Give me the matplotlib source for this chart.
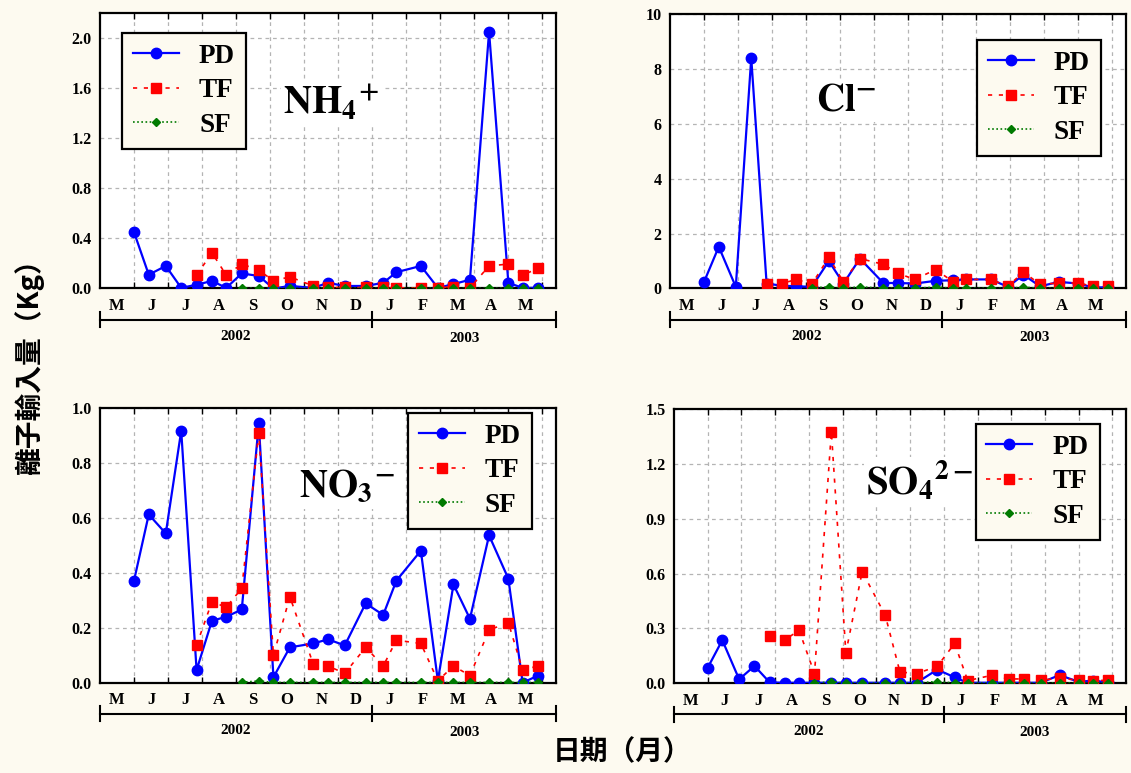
import calendar
import matplotlib
matplotlib.use("Agg")
import matplotlib.pyplot as plt
import matplotlib.transforms as mtransforms

# sampling dates (PD uses all, TF starts at the 5th, SF at the 8th)
dates = ['2002-06-01', '2002-06-14', '2002-06-29', '2002-07-13', '2002-07-27',
         '2002-08-10', '2002-08-23', '2002-09-06', '2002-09-21', '2002-10-04',
         '2002-10-19', '2002-11-09', '2002-11-22', '2002-12-07', '2002-12-26',
         '2003-01-11', '2003-01-23', '2003-02-13', '2003-02-27', '2003-03-13',
         '2003-03-28', '2003-04-14', '2003-05-01', '2003-05-14', '2003-05-28']
tf_start = 4
sf_start = 7

month_labels = ['M', 'J', 'J', 'A', 'S', 'O', 'N', 'D', 'J', 'F', 'M', 'A', 'M']
years = ['2002', '2003']

# NH4+
nh4_pd = [0.45, 0.11, 0.18, 0.005, 0.03, 0.06, 0.005, 0.12, 0.10, 0.0, 0.02, 0.005, 0.045,
          0.02, 0.02, 0.045, 0.13, 0.18, 0.005, 0.035, 0.07, 2.05, 0.045, 0.005, 0.005]
nh4_tf = [0.107, 0.285, 0.107, 0.195, 0.147, 0.061, 0.093, 0.02, 0.008, 0.008, 0.008,
          0.008, 0.005, 0.005, 0.005, 0.015, 0.005, 0.18, 0.195, 0.107, 0.16]
nh4_sf = [0.003, 0.003, 0.002, 0.002, 0.002, 0.002, 0.002, 0.002, 0.002, 0.002, 0.002,
          0.002, 0.002, 0.002, 0.002, 0.002, 0.002, 0.002]

# Cl-
cl_pd = [0.24, 1.52, 0.06, 8.4, 0.18, 0.1, 0.08, 0.06, 1.0, 0.18, 1.09, 0.2, 0.2,
         0.18, 0.28, 0.3, 0.33, 0.33, 0.06, 0.5, 0.08, 0.24, 0.18, 0.04, 0.04]
cl_tf = [0.15, 0.18, 0.33, 0.16, 1.13, 0.24, 1.09, 0.88, 0.55, 0.33, 0.69, 0.24, 0.33,
         0.33, 0.08, 0.6, 0.15, 0.2, 0.2, 0.08, 0.08]
cl_sf = [0.02, 0.06, 0.01, 0.06, 0.01, 0.01, 0.01, 0.05, 0.01, 0.01, 0.01, 0.01, 0.05,
         0.01, 0.01, 0.01, 0.01, 0.01]

# NO3-
no3_pd = [0.372, 0.613, 0.544, 0.918, 0.046, 0.226, 0.24, 0.267, 0.945, 0.02, 0.129,
          0.143, 0.158, 0.136, 0.289, 0.247, 0.372, 0.481, 0.007, 0.358, 0.233, 0.537,
          0.379, 0.0, 0.026]
no3_tf = [0.137, 0.295, 0.275, 0.344, 0.909, 0.10, 0.313, 0.068, 0.061, 0.034, 0.129,
          0.061, 0.155, 0.143, 0.007, 0.061, 0.026, 0.192, 0.219, 0.046, 0.061]
no3_sf = [0.002, 0.006, 0.001, 0.001, 0.001, 0.001, 0.001, 0.001, 0.001, 0.001, 0.001,
          0.001, 0.001, 0.001, 0.001, 0.001, 0.001, 0.001]

# SO4 2-
so4_pd = [0.085, 0.236, 0.022, 0.095, 0.005, 0.003, 0.003, 0.003, 0.003, 0.003, 0.003,
          0.003, 0.003, 0.003, 0.075, 0.033, 0.003, 0.003, 0.003, 0.003, 0.003, 0.045,
          0.008, 0.015, 0.005]
so4_tf = [0.26, 0.238, 0.29, 0.053, 1.376, 0.167, 0.611, 0.371, 0.062, 0.053, 0.093,
          0.218, 0.015, 0.044, 0.024, 0.024, 0.018, 0.027, 0.018, 0.013, 0.018]
so4_sf = [0.002, 0.008, 0.002, 0.002, 0.002, 0.002, 0.002, 0.01, 0.002, 0.002, 0.002,
          0.002, 0.002, 0.002, 0.002, 0.002, 0.002, 0.002]


def month_pos(s):
    # months elapsed since 1 May 2002, each month the same width
    y, m, d = map(int, s.split('-'))
    return (y - 2002) * 12 + (m - 5) + (d - 1) / calendar.monthrange(y, m)[1]


x_all = [month_pos(d) for d in dates]

plt.rcParams['font.family'] = ['Liberation Serif', 'DejaVu Serif']
plt.rcParams['font.weight'] = 'bold'
plt.rcParams['mathtext.fontset'] = 'stix'

bg = '#fdfaf0'
cjk = ['Noto Sans CJK TC', 'DejaVu Sans']

fig = plt.figure(figsize=(11.31, 7.73), dpi=100, facecolor=bg)

panels = [
    # rect, pd, tf, sf, ymax, ystep, fmt, ion label, label pos, legend loc, legend anchor
    ([0.0884, 0.6268, 0.4032, 0.3564], nh4_pd, nh4_tf, nh4_sf, 2.2, 0.4, '{:.1f}',
     r'$\mathbf{NH_4}^{\mathbf{+}}$', (0.507, 0.673), 'upper left', (0.048, 0.927)),
    ([0.5924, 0.6268, 0.4032, 0.3551], cl_pd, cl_tf, cl_sf, 10, 2, '{:.0f}',
     r'$\mathbf{Cl}^{\mathbf{-}}$', (0.386, 0.683), 'upper right', (0.945, 0.905)),
    ([0.0884, 0.1168, 0.4032, 0.3550], no3_pd, no3_tf, no3_sf, 1.0, 0.2, '{:.1f}',
     r'$\mathbf{NO_3}^{\mathbf{-}}$', (0.542, 0.71), 'upper right', (0.947, 0.983)),
    ([0.5959, 0.1160, 0.3996, 0.3549], so4_pd, so4_tf, so4_sf, 1.5, 0.3, '{:.1f}',
     r'$\mathbf{SO_4}^{\mathbf{2-}}$', (0.544, 0.737), 'upper right', (0.942, 0.945)),
]

xmax = 13.4

for rect, pdv, tfv, sfv, ymax, ystep, fmt, ion, ion_pos, lloc, lanchor in panels:
    ax = fig.add_axes(rect)
    ax.set_facecolor('white')

    ax.plot(x_all, pdv, color='#0000ff', lw=1.6, marker='o', ms=7.5, label='PD', zorder=3)
    ax.plot(x_all[tf_start:], tfv, color='#ff0000', lw=1.2, ls=(0, (2.5, 4)), marker='s',
            ms=7, label='TF', zorder=4)
    ax.plot(x_all[sf_start:], sfv, color='#007a00', lw=1.2, ls=(0, (1, 1.5)), marker='D',
            ms=4.5, label='SF', zorder=5)

    ax.set_xlim(0, xmax)
    ax.set_ylim(0, ymax)

    yt = [i * ystep for i in range(int(round(ymax / ystep)) + 1)]
    yt = [v for v in yt if v <= ymax + 1e-9]
    ax.set_yticks(yt)
    ax.set_yticklabels([fmt.format(v) for v in yt])
    ax.tick_params(axis='y', length=0, pad=6, labelsize=11.5)

    ax.set_xticks(range(1, 14))
    ax.set_xticklabels([])
    ax.set_xticks([i + 0.5 for i in range(13)], minor=True)
    ax.set_xticklabels(month_labels, minor=True)
    ax.tick_params(axis='x', which='major', direction='in', length=4, top=True, width=1)
    ax.tick_params(axis='x', which='minor', length=0, pad=7, labelsize=12)

    ax.grid(True, which='major', color='#b4b4b4', ls=(0, (3, 3)), lw=0.9)
    ax.set_axisbelow(True)
    for sp in ax.spines.values():
        sp.set_linewidth(1.6)
        sp.set_color('black')

    # year bracket below month labels
    tr = mtransforms.blended_transform_factory(ax.transData, ax.transAxes)
    ax.plot([0, xmax], [-0.113, -0.113], color='black', lw=1.5, transform=tr, clip_on=False)
    for xb in [0, 8, xmax]:
        ax.plot([xb, xb], [-0.085, -0.141], color='black', lw=1.5, transform=tr, clip_on=False)
    ax.text(4, -0.175, years[0], transform=tr, ha='center', va='center', fontsize=11,
            fontweight='bold')
    ax.text((8 + xmax) / 2, -0.18, years[1], transform=tr, ha='center', va='center',
            fontsize=11, fontweight='bold')

    ax.text(ion_pos[0], ion_pos[1], ion, transform=ax.transAxes, ha='center', va='center',
            fontsize=28, bbox=dict(facecolor='white', edgecolor='none', pad=2), zorder=6)

    leg = ax.legend(loc=lloc, bbox_to_anchor=lanchor, borderaxespad=0, fancybox=False,
                    framealpha=1, facecolor=bg, edgecolor='black',
                    handlelength=1.7, handletextpad=0.75, labelspacing=0.35,
                    borderpad=0.4, prop={'weight': 'bold', 'size': 19.5})
    leg.get_frame().set_linewidth(1.6)
    leg.set_zorder(7)

fig.text(0.026, 0.535, '離子輸入量（Kg）', rotation=90, ha='center', va='center',
         fontsize=20, fontweight='bold', family=cjk)
fig.text(0.55, 0.027, '日期（月）', ha='center', va='center', fontsize=20,
         fontweight='bold', family=cjk)

fig.savefig('out.png', dpi=100, facecolor=bg)
